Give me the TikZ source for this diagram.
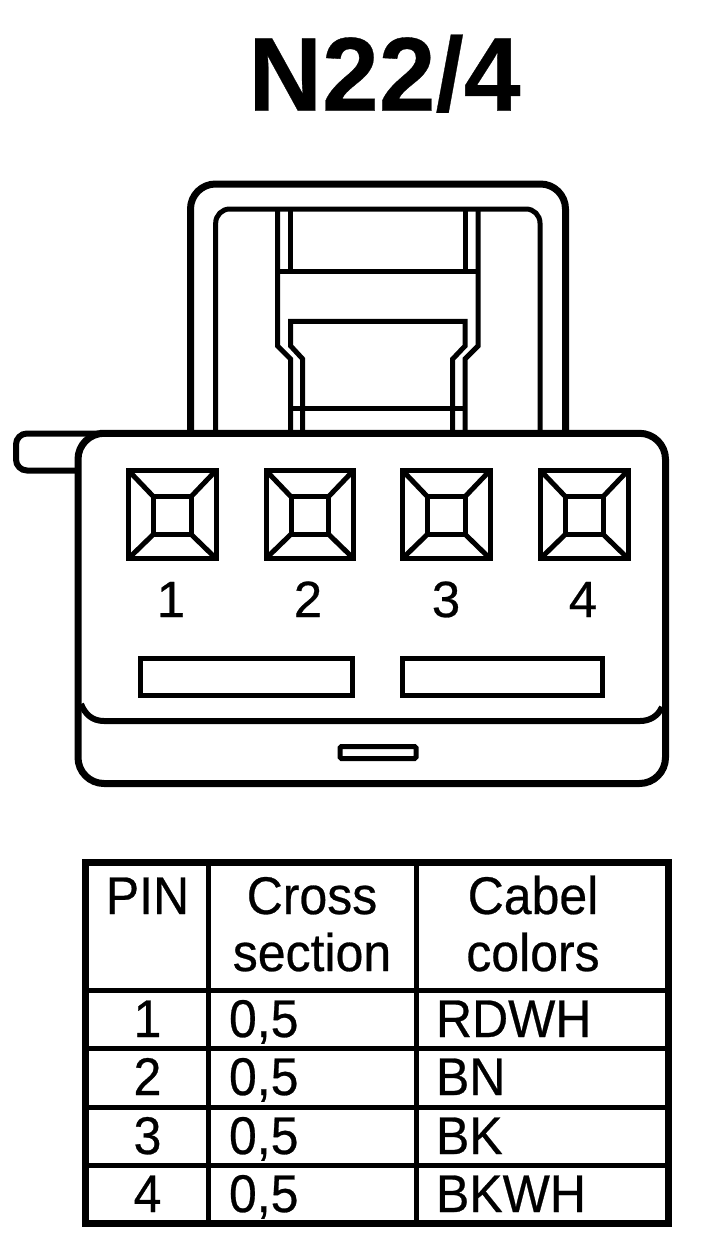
\documentclass[tikz,border=0pt]{standalone}
\usepackage{fontspec}
\setmainfont{Liberation Sans}
\newfontfamily\lblfont[FakeBold=0.5]{Liberation Sans}
\newfontfamily\ttlfont[FakeBold=0.3]{Liberation Sans Bold}
\tikzset{
  thickline/.style={line width=7pt,line join=round},
  midline/.style={line width=5pt,line join=miter},
  txt/.style={anchor=base,inner sep=0pt,outer sep=0pt,yscale=1.04,xscale=0.98,font=\lblfont\fontsize{51}{51}\selectfont},
  txtl/.style={txt,anchor=base west},
  pinlab/.style={anchor=base,inner sep=0pt,outer sep=0pt,font=\lblfont\fontsize{51}{51}\selectfont},
  gridline/.style={line width=5pt},
}
\begin{document}
\begin{tikzpicture}[x=1pt,y=-1pt]
\useasboundingbox (0,0) rectangle (704,1250);
\fill[white] (0,0) rectangle (704,1250);
% title
\node[anchor=base,inner sep=0pt,yscale=1.03,font=\ttlfont\fontsize{102}{102}\selectfont] (title) at (384.5,110.7) {N22/4};
% outer loop
\draw[thickline,rounded corners=25pt] (190.5,433) -- (190.5,184) -- (565.5,184) -- (565.5,433);
% inner loop
\draw[midline,rounded corners=14pt] (215.7,433) -- (215.7,209) -- (540,209) -- (540,433);
% latch
\draw[midline] (277.7,209) -- (277.7,346) -- (290.7,359) -- (290.7,433);
\draw[midline] (478,209) -- (478,346) -- (465,359) -- (465,433);
\draw[midline] (290.7,209) -- (290.7,271);
\draw[midline] (465,209) -- (465,271);
\draw[midline] (277.7,271) -- (478,271);
\draw[midline] (302.7,433) -- (302.7,359) -- (290.7,346) -- (290.7,321.3) -- (465,321.3) -- (465,346) -- (452.7,359) -- (452.7,433);
\draw[midline] (290.7,408.3) -- (465,408.3);
% tab
\draw[line width=6pt,rounded corners=11pt] (76,470.5) -- (16,470.5) -- (16,433.5) -- (100,433.5);
% body
\draw[thickline,rounded corners=26pt] (100,433.3) -- (665.5,433.3) -- (665.5,783.5) -- (78,783.5) -- (78,433.3) -- (110,433.3);
\draw[line width=6pt] (81,704) .. controls (85,714) and (92,721) .. (104,721) -- (640,721) .. controls (650,721) and (658,716) .. (662,707);
% sockets
\foreach \n/\x in {1/128.5,2/266,3/402.5,4/540.5}{
  \draw[midline] (\x,470.5) rectangle ++(87.5,88);
  \draw[midline] (\x+25,496.7) rectangle ++(37.5,37.5);
  \draw[line width=5pt] (\x,470.5) -- ++(25,26.2);
  \draw[line width=5pt] (\x+87.5,470.5) -- ++(-25,26.2);
  \draw[line width=5pt] (\x,558.5) -- ++(25,-24.3);
  \draw[line width=5pt] (\x+87.5,558.5) -- ++(-25,-24.3);
}
\node[pinlab] (p1) at (171,617) {1};
\node[pinlab] (p2) at (308,617) {2};
\node[pinlab] (p3) at (446,617) {3};
\node[pinlab] (p4) at (583,617) {4};
% slots
\draw[midline] (140,658.5) rectangle (352.5,695.5);
\draw[midline] (402.5,658.5) rectangle (602.5,695.5);
\draw[midline,rounded corners=1.5pt] (340,746.5) rectangle (416,758.5);
% table
\draw[line width=7pt] (85,862) rectangle (668,1223);
\draw[gridline] (208.5,862) -- (208.5,1223);
\draw[gridline] (416,862) -- (416,1223);
\draw[gridline] (85,990) -- (668,990);
\draw[gridline] (85,1048.5) -- (668,1048.5);
\draw[gridline] (85,1107) -- (668,1107);
\draw[gridline] (85,1165.5) -- (668,1165.5);
\node[txt] (h1) at (147.5,914) {PIN};
\node[txt] (h2a) at (312,914) {Cross};
\node[txt] (h2b) at (312,971) {section};
\node[txt] (h3a) at (533,914) {Cabel};
\node[txt] (h3b) at (533,971) {colors};
\foreach \r/\y/\c in {1/1037/RDWH,2/1095/BN,3/1154/BK,4/1212/BKWH}{
  \node[txt] (n\r) at (147.5,\y) {\r};
  \node[txtl] (s\r) at (229,\y) {0,5};
  \node[txtl] (c\r) at (436,\y) {\c};
}
\end{tikzpicture}
\end{document}
